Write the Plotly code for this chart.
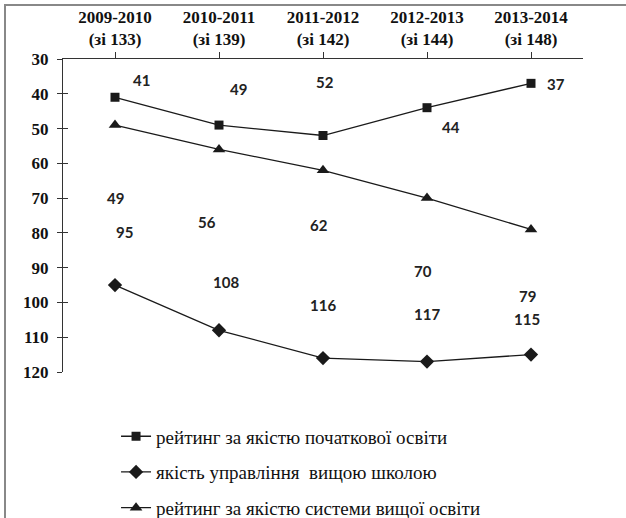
import plotly.graph_objects as go

categories = ["2009-2010<br>(зі 133)", "2010-2011<br>(зі 139)", "2011-2012<br>(зі 142)",
              "2012-2013<br>(зі 144)", "2013-2014<br>(зі 148)"]
primary_edu = [41, 49, 52, 44, 37]
higher_mgmt = [95, 108, 116, 117, 115]
higher_sys = [49, 56, 62, 70, 79]

names = ["рейтинг за якістю початкової освіти",
         "якість управління  вищою школою",
         "рейтинг за якістю системи вищої освіти"]
symbols = ["square", "diamond", "triangle-up"]
sizes = [9, 11, 11]
series = [primary_edu, higher_mgmt, higher_sys]

# label offsets (pixels) relative to points, as placed in the original
label_dx = [[26, 19, 2, 24, 25], [9, 7, 0, 0, -4], [0, -12, -4, -4, -4]]
label_dy = [[17, 36, 54, -19, -1], [53, 48, 53, 48, 36], [-73, -73, -55, -73, -67]]

SERIF = "Liberation Serif, Times New Roman, serif"

fig = go.Figure()
for i, (vals, nm) in enumerate(zip(series, names)):
    fig.add_trace(go.Scatter(
        x=list(range(len(categories))), y=vals, name=nm, mode="lines+markers",
        legendgroup=f"g{i}",
        line=dict(color="#1a1a1a", width=1.3),
        marker=dict(symbol=symbols[i], size=sizes[i], color="#1a1a1a"),
    ))
    for j, v in enumerate(vals):
        fig.add_annotation(x=j, y=v, text=f"<b>{v}</b>", showarrow=False,
                           xshift=label_dx[i][j], yshift=label_dy[i][j],
                           font=dict(family="Lato", size=15, color="#222"))

# invisible overlay axis for inside half of cross ticks
fig.add_trace(go.Scatter(x=[0], y=[30], yaxis="y2", mode="markers",
                         marker=dict(opacity=0), showlegend=False, hoverinfo="skip"))

fig.update_layout(
    width=626, height=518,
    margin=dict(l=63, r=43, t=59, b=146, autoexpand=False),
    paper_bgcolor="white", plot_bgcolor="white",
    font=dict(family=SERIF, color="#111"),
    showlegend=True,
    legend=dict(x=0.102, y=-0.145, xanchor="left", yanchor="top",
                font=dict(family=SERIF, size=19, color="#111"),
                traceorder="grouped", tracegroupgap=8, bgcolor="rgba(0,0,0,0)"),
    xaxis=dict(side="top", range=[-0.5, 4.5], tickmode="array", automargin=False,
               tickvals=list(range(5)), ticktext=[f"<b>{c}</b>" for c in categories],
               tickson="boundaries", ticks="outside", ticklen=6, tickcolor="#333",
               showline=True, linecolor="#333", linewidth=1, showgrid=False,
               zeroline=False, tickfont=dict(family=SERIF, size=17, color="#111")),
    yaxis=dict(range=[120, 30], tickmode="array", tickvals=list(range(30, 121, 10)),
               ticktext=[f"<b>{t}</b>" for t in range(30, 121, 10)], automargin=False,
               ticks="outside", ticklen=5, tickcolor="#333", ticklabelstandoff=5,
               showline=True, linecolor="#333", linewidth=1, showgrid=False,
               zeroline=False, tickfont=dict(family=SERIF, size=17, color="#111")),
    yaxis2=dict(overlaying="y", side="left", range=[120, 30], tickvals=list(range(30, 121, 10)),
                ticks="inside", ticklen=5, tickcolor="#333", showticklabels=False,
                automargin=False, showgrid=False, zeroline=False, showline=False),
    shapes=[dict(type="rect", xref="paper", yref="paper",
                 x0=(5 - 63) / 520, x1=(640 - 63) / 520,
                 y0=(372 - 530) / 313, y1=(372 - 5) / 313,
                 line=dict(color="#888", width=2))],
)
fig.write_html("out.html", config={"displayModeBar": False},
               post_script="document.body.style.margin='0px';")
